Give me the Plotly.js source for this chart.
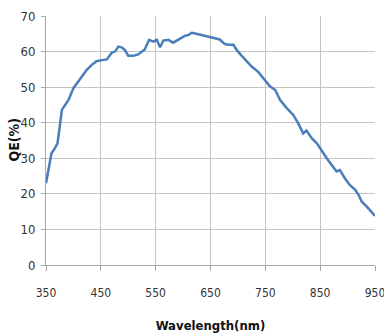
<!DOCTYPE html>
<html>
<head>
<meta charset="utf-8">
<script src="https://cdn.plot.ly/plotly-3.0.1.min.js"></script>
<style>html,body{margin:0;padding:0;background:#fff;}#chart{width:384px;height:333px;}</style>
</head>
<body>
<div id="chart"></div>
<script>
const wavelength = [350,354,360,366,371,375,379,385,391,400,409,415,424,433,442,452,461,470,476,482,488,494,500,509,518,524,530,538,546,552,558,564,573,582,591,597,603,610,616,622,628,637,649,658,667,676,683,692,698,707,716,725,737,746,758,768,777,789,801,810,819,825,835,844,853,862,871,880,886,895,904,914,920,926,935,944,950];
const qe = [23,26.7,31.4,32.8,34.2,38.9,43.6,45,46.4,49.7,51.5,52.9,54.8,56.2,57.3,57.6,57.8,59.7,60,61.4,61.2,60.4,58.8,58.8,59.2,59.9,60.6,63.3,62.8,63.3,61.2,63.1,63.3,62.5,63.3,63.7,64.4,64.7,65.3,65.1,64.9,64.4,64.2,63.7,63.4,62.1,61.9,61.9,60.4,58.8,57.4,55.8,54.3,52.5,50.3,49.2,46.4,44.1,42.2,39.8,37,37.8,35.6,34.2,31.9,30,28.1,26.3,26.7,24.4,22.5,21.1,19.7,17.8,16.4,15,13.8];
const xTicks = [350,450,550,650,750,850,950];
const yTicks = [0,10,20,30,40,50,60,70];
const xTitle = 'Wavelength(nm)';
const yTitle = 'QE(%)';

const condensed = '"DejaVu Sans Condensed", "Liberation Sans Narrow", "Liberation Sans", Arial, sans-serif';
const xTickFont = {family: condensed, size: 12, color: '#333'};
const yTickFont = {family: condensed, size: 13, color: '#333'};
const xTitleFont = {family: condensed, size: 13, color: '#111', weight: 'bold'};
const yTitleFont = {family: condensed, size: 14, color: '#111', weight: 'bold'};

Plotly.newPlot('chart', [{
  x: wavelength, y: qe, type: 'scatter', mode: 'lines',
  line: {color: '#4a7ebb', width: 2.5, shape: 'linear'},
  hoverinfo: 'skip'
}], {
  width: 384, height: 333,
  margin: {l: 46, r: 9, t: 16, b: 68},
  paper_bgcolor: '#fff', plot_bgcolor: '#fff',
  showlegend: false,
  xaxis: {
    range: [350, 950], tickvals: xTicks, ticktext: xTicks.map(String),
    showgrid: true, gridcolor: '#c4c4c4', gridwidth: 1,
    showline: true, linecolor: '#a6a6a6', linewidth: 1, mirror: false,
    ticks: 'outside', ticklen: 5, tickcolor: '#a6a6a6',
    tickfont: xTickFont, zeroline: false,
    ticklabeloverflow: 'allow', ticklabelstandoff: 12,
    automargin: false,
    title: {text: xTitle, font: xTitleFont, standoff: 25}
  },
  yaxis: {
    range: [0, 70], tickvals: yTicks, ticktext: yTicks.map(String),
    showgrid: true, gridcolor: '#c4c4c4', gridwidth: 1,
    showline: true, linecolor: '#a6a6a6', linewidth: 1,
    ticks: 'outside', ticklen: 4, tickcolor: '#a6a6a6',
    tickfont: yTickFont, zeroline: false,
    ticklabelstandoff: 3, automargin: false
  },
  annotations: [{
    text: yTitle, xref: 'paper', yref: 'paper', x: 0, y: 0.5,
    xshift: -33, textangle: -90, showarrow: false,
    xanchor: 'center', yanchor: 'middle', font: yTitleFont
  }]
}, {staticPlot: true, displayModeBar: false});
</script>
</body>
</html>
